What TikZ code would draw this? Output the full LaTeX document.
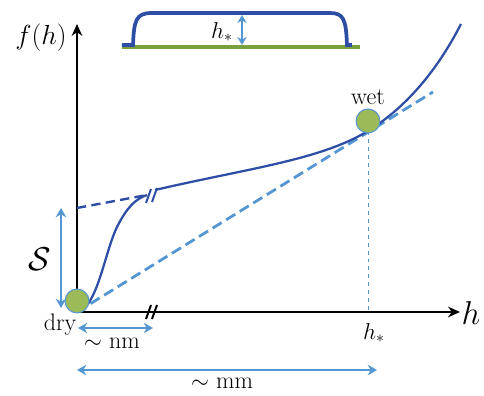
\documentclass[tikz,border=0pt]{standalone}
\usepackage{tikz}
\usetikzlibrary{arrows.meta, positioning, calc}

\definecolor{curveblue}{RGB}{46,78,166}
\definecolor{lightblue}{RGB}{84,150,210}
\definecolor{dropgreen}{RGB}{155,187,89}
\definecolor{basegreen}{RGB}{122,160,60}

\begin{document}
\begin{tikzpicture}[
    x=0.02646cm, y=-0.02646cm,
    font=\fontsize{18}{21}\selectfont,
    axis/.style = {draw=black, line width=1.7pt, -{Stealth[length=9pt, width=8pt]}},
    curve/.style = {draw=curveblue, line width=1.7pt},
    extrap/.style = {draw=curveblue, line width=1.8pt, dash pattern=on 7pt off 4pt},
    tangent/.style = {draw=lightblue, line width=2.1pt, dash pattern=on 8pt off 4pt},
    marker/.style = {draw=lightblue, thin, dash pattern=on 3pt off 3pt},
    span/.style = {draw=lightblue, line width=1.5pt, {Stealth[length=7pt, width=8pt]}-{Stealth[length=7pt, width=8pt]}},
    drop/.style = {circle, draw=lightblue, fill=dropgreen, line width=0.8pt, minimum size=18pt, inner sep=0pt},
    brk/.style = {line width=1.5pt}
]
\useasboundingbox (0,0) rectangle (484,396);

% Coordinates
\coordinate (origin) at (77,312);
\coordinate (ytop) at (77,24);
\coordinate (xend) at (460,312);
\coordinate (sbot) at (61,308);
\coordinate (stop) at (61,208);
\coordinate (kink) at (147,195);
\coordinate (join) at (155,190);
\coordinate (touch) at (368,131);
\coordinate (tanend) at (433,92);
\coordinate (hstar) at (368,312);

% Inset: film on substrate
\draw[basegreen, line width=3pt] (122,47) -- (360,47);
\draw[curveblue, line width=2.8pt] (122,45) -- (133,45) .. controls (134,20) and (136,13) .. (152,13)
    -- (330,13) .. controls (344,13) and (346,20) .. (347,45) -- (352,45);
\coordinate (filmtop) at (242,15);
\coordinate (filmbot) at (242,45);
\draw[draw=lightblue, line width=1.8pt, {Stealth[length=6pt, width=7pt]}-{Stealth[length=6pt, width=7pt]}] (filmtop) -- (filmbot);
\node (hfilm) at (222,32) {$h_*$};

% Axes
\path[axis] (origin) -- (ytop);
\path[axis] (origin) -- (xend);
\node (flabel) at (41,38) {\fontsize{20}{23}\selectfont$f(h)$};
\node (hlabel) at (471,313) {\fontsize{24}{26}\selectfont$h$};

% Tangent and extrapolation
\path[tangent] (origin) -- (tanend);
\path[extrap] (77,208) -- (kink);
\path[marker] (touch) -- (hstar);

% Curve
\path[curve] (79,311) .. controls (98,305) and (105,250) .. (118,225)
    .. controls (127,208) and (135,199) .. (kink);
\path[curve] (join) .. controls (250,168) and (320,160) .. (touch)
    .. controls (410,105) and (440,65) .. (461,24);

% Breaks
\draw[brk, curveblue] (146,203) -- (151,189) (152,202) -- (157,188);
\draw[brk, black] (146,319) -- (151,305) (152,319) -- (157,305);

% Drops
\node[drop] (dry) at (77,301) {};
\node[drop] (wet) at (368,121) {};
\node[above=-1pt of wet] (wetlabel) {wet};
\node (drylabel) at (60,325) {dry};
\node (hstarlabel) at (374,333) {$h_*$};

% Spans
\path[span] (sbot) -- (stop);
\node (slabel) at (40,259) {\fontsize{24}{26}\selectfont$\mathcal{S}$};
\coordinate (nmleft) at (78,328);
\coordinate (nmright) at (153,328);
\path[span] (nmleft) -- (nmright);
\node (nmlabel) at (112,343) {$\sim$ nm};
\coordinate (mmleft) at (77,370);
\coordinate (mmright) at (377,370);
\path[span] (mmleft) -- (mmright);
\node (mmlabel) at (222,383) {$\sim$ mm};

\end{tikzpicture}
\end{document}
